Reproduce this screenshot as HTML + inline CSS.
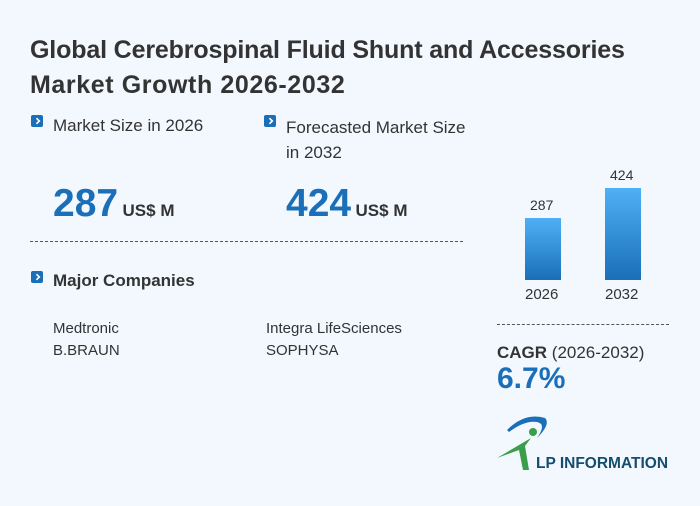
<!DOCTYPE html>
<html><head><style>
body{margin:0;width:700px;height:506px;background:#f2f8fe;font-family:"Liberation Sans",sans-serif;color:#333;position:relative;overflow:hidden}
.a{position:absolute;white-space:nowrap}
.ic{position:absolute;width:12px;height:12px;background:#1a6fb8;border-radius:2px}
.ic:after{content:"";position:absolute;left:3px;top:3px;width:4px;height:4px;border-right:2px solid #fff;border-top:2px solid #fff;transform:rotate(45deg) scale(.8)}
.big{font-weight:bold;color:#1a6fb8;font-size:39px}
.bar{position:absolute;width:36px;background:linear-gradient(#4fb0f5,#1a6fb8)}
</style></head><body>
<div class="a" style="left:30px;top:33px;font-size:25px;font-weight:bold;line-height:35px;letter-spacing:-0.15px">Global Cerebrospinal Fluid Shunt and Accessories<br><span style="letter-spacing:0.6px">Market Growth 2026-2032</span></div>
<div class="ic" style="left:31px;top:115px"></div>
<div class="a" style="left:53px;top:116px;font-size:17px">Market Size in 2026</div>
<div class="ic" style="left:264px;top:115px"></div>
<div class="a" style="left:286px;top:115px;font-size:17px;line-height:25px">Forecasted Market Size<br>in 2032</div>
<div class="a" style="left:53px;top:182px"><span class="big">287</span> <span style="font-weight:bold;font-size:17px">US$ M</span></div>
<div class="a" style="left:286px;top:182px"><span class="big">424</span> <span style="font-weight:bold;font-size:17px">US$ M</span></div>
<div class="a" style="left:30px;top:241px;width:433px;border-top:1px dashed #555"></div>
<div class="ic" style="left:31px;top:271px"></div>
<div class="a" style="left:53px;top:271px;font-size:17px;font-weight:bold">Major Companies</div>
<div class="a" style="left:53px;top:318px;font-size:15px;line-height:22px">Medtronic<br>B.BRAUN</div>
<div class="a" style="left:266px;top:318px;font-size:15px;line-height:22px">Integra LifeSciences<br>SOPHYSA</div>
<div class="bar" style="left:525px;top:218px;height:62px"></div>
<div class="bar" style="left:605px;top:188px;height:92px"></div>
<div class="a" style="left:530px;top:197px;font-size:14px">287</div>
<div class="a" style="left:610px;top:167px;font-size:14px">424</div>
<div class="a" style="left:525px;top:286px;font-size:15px">2026</div>
<div class="a" style="left:605px;top:286px;font-size:15px">2032</div>
<div class="a" style="left:497px;top:324px;width:172px;border-top:1px dashed #555"></div>
<div class="a" style="left:497px;top:343px;font-size:17px"><b>CAGR</b> (2026-2032)</div>
<div class="a" style="left:497px;top:362px;font-size:30px;font-weight:bold;color:#1a6fb8">6.7%</div>
<svg class="a" style="left:495px;top:410px" width="60" height="60"><path d="M12 20 Q30 2 50 8 Q56 14 42 28 Q52 14 42 12 Q30 10 14 22Z" fill="#1a6fb8"/><circle cx="38" cy="22" r="4" fill="#3a9e4a"/><path d="M2 48 L36 28 L30 36 L34 60 L28 60 L24 40Z" fill="#3a9e4a"/></svg>
<div class="a" style="left:536px;top:455px;font-size:15.5px;font-weight:bold;color:#154d6e">LP INFORMATION</div>
</body></html>
